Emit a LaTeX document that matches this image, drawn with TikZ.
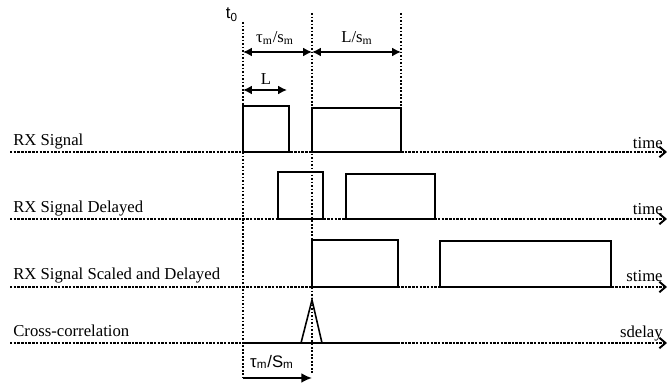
\documentclass[tikz,border=0pt]{standalone}
\usepackage{fontspec}
\setmainfont{Liberation Serif}
\setsansfont{Liberation Sans}
\usetikzlibrary{positioning,arrows.meta}

\begin{document}
\begin{tikzpicture}[x=0.02cm, y=-0.02cm, font=\fontsize{9.5}{10}\selectfont,
    guide/.style={dash pattern=on 1pt off 1pt, line width=0.6pt},
    axis/.style={dash pattern=on 1.4pt off 0.7pt, line width=0.6pt, -{Straight Barb[length=3.5pt,width=6pt,line width=1.1pt]}},
    pulse/.style={draw, line width=0.9pt},
    dim/.style={line width=0.9pt, {Latex[length=5pt,width=5pt]}-{Latex[length=5pt,width=5pt]}}]
    \useasboundingbox (0,0) rectangle (667,384);

    % Markers in time
    \coordinate (ta) at (243,22);  \coordinate (tab) at (243,378);
    \coordinate (tb) at (312,13);  \coordinate (tbb) at (312,373);
    \coordinate (tc) at (401,13);  \coordinate (tcb) at (401,108);
    \draw[guide] (ta) -- (tab);
    \draw[guide] (tb) -- (tbb);
    \draw[guide] (tc) -- (tcb);
    \node[font=\sffamily\fontsize{9.5}{10}\selectfont] (tzero) at (232,15) {t\textsubscript{0}};

    % Dimensions on top
    \coordinate (da) at (243,52); \coordinate (db) at (312,52); \coordinate (dc) at (401,52);
    \draw[dim] (da) -- (db);
    \draw[dim] (db) -- (dc);
    \node (tauspan) at (275,38) {τ\textsubscript{m}/s\textsubscript{m}};
    \node (lspan) at (357,38) {L/s\textsubscript{m}};
    \coordinate (la) at (243,90); \coordinate (lb) at (287,90);
    \draw[dim] (la) -- (lb);
    \node (lwidth) at (266,79) {L};

    % RX Signal
    \coordinate (ax1) at (10,152); \coordinate (ax1e) at (667,152);
    \draw[axis] (ax1) -- (ax1e);
    \node[anchor=base west, inner xsep=0pt] (rx) at (13,146) {RX Signal};
    \node[anchor=base east, inner xsep=0pt] (rxt) at (663,149) {time};
    \draw[pulse] (243,106) rectangle (289,152);
    \draw[pulse] (312,108) rectangle (401,152);

    % RX Signal Delayed
    \coordinate (ax2) at (10,219); \coordinate (ax2e) at (667,219);
    \draw[axis] (ax2) -- (ax2e);
    \node[anchor=base west, inner xsep=0pt] (rxd) at (13,213) {RX Signal Delayed};
    \node[anchor=base east, inner xsep=0pt] (rxdt) at (663,215) {time};
    \draw[pulse] (278,172) rectangle (323,219);
    \draw[pulse] (346,174) rectangle (435,219);

    % RX Signal Scaled and Delayed
    \coordinate (ax3) at (10,287); \coordinate (ax3e) at (667,287);
    \draw[axis] (ax3) -- (ax3e);
    \node[anchor=base west, inner xsep=0pt] (rxs) at (13,280) {RX Signal Scaled and Delayed};
    \node[anchor=base east, inner xsep=0pt] (rxst) at (663,282) {stime};
    \draw[pulse] (312,240) rectangle (398,287);
    \draw[pulse] (440,241) rectangle (611,287);

    % Cross-correlation
    \coordinate (ax4) at (10,343); \coordinate (ax4e) at (667,343);
    \draw[axis] (ax4) -- (ax4e);
    \node[anchor=base west, inner xsep=0pt] (xc) at (13,337) {Cross-correlation};
    \node[anchor=base east, inner xsep=0pt] (xct) at (663,338) {sdelay};
    \draw[line width=0.9pt] (243,343) -- (397,343);
    \coordinate (peak) at (312,300);
    \draw[line width=0.9pt] (301,343) -- (peak) -- (322,343);

    % Delay found
    \node[font=\sffamily\fontsize{9.5}{10}\selectfont] (taudelay) at (272,362) {τ\textsubscript{m}/S\textsubscript{m}};
    \coordinate (ea) at (243,378); \coordinate (eb) at (312,378);
    \draw[line width=1.1pt, -{Latex[length=6pt,width=5.5pt]}] (ea) -- (eb);
\end{tikzpicture}
\end{document}
